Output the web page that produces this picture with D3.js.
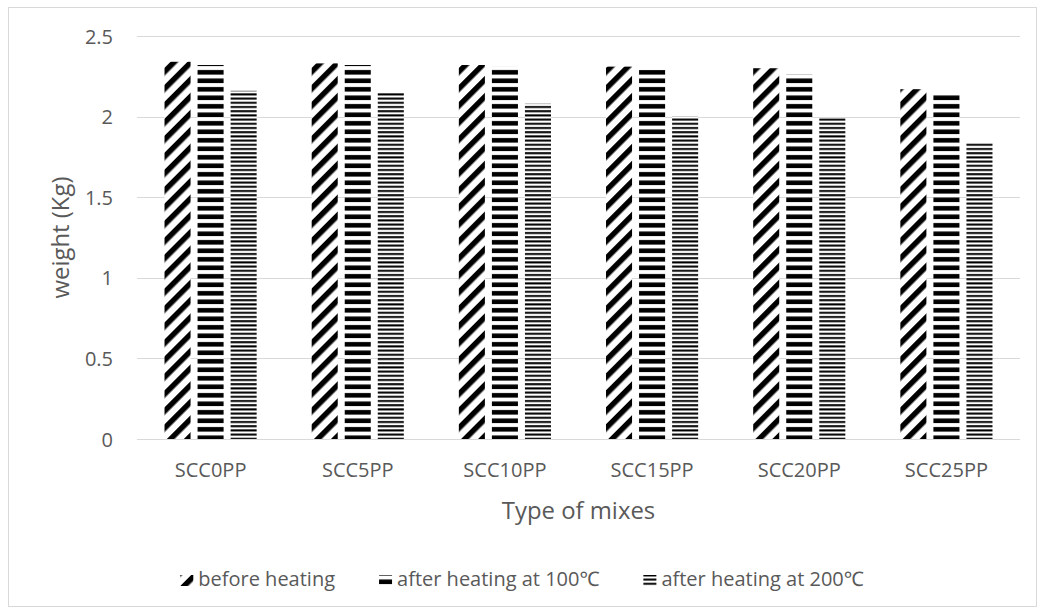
<!DOCTYPE html>
<html>
<head>
<meta charset="utf-8">
<script src="https://cdn.jsdelivr.net/npm/d3@7"></script>
<style>
  html, body { margin: 0; padding: 0; background: #fff; }
  svg text { font-family: "Open Sans", "Noto Sans", sans-serif; fill: #595959; }
</style>
</head>
<body>
<svg id="chart" width="1044" height="615"></svg>
<script>
// Mix types along the x axis
const categories = ["SCC0PP", "SCC5PP", "SCC10PP", "SCC15PP", "SCC20PP", "SCC25PP"];
// Series names (legend)
const seriesNames = ["before heating", "after heating at 100\u2103", "after heating at 200\u2103"];
// Specimen weight (Kg) per mix
const beforeHeating = [2.34, 2.33, 2.32, 2.31, 2.30, 2.17];
const after100 = [2.32, 2.32, 2.31, 2.29, 2.26, 2.15];
const after200 = [2.16, 2.15, 2.08, 2.00, 1.99, 1.84];
const yTicks = [0, 0.5, 1, 1.5, 2, 2.5];
const yTickLabels = ["0", "0.5", "1", "1.5", "2", "2.5"];

const seriesValues = [beforeHeating, after100, after200];
const patternIds = ["pat-diag", "pat-hwide", "pat-hnarrow"];

const svg = d3.select("#chart");
const W = 1044;
const plot = { left: 137, right: 1020, top: 36, bottom: 439 };
const labelSize = 20;

// pick a font size so that a string renders at the wanted width
function fitFontSize(str, targetWidth) {
  const t = svg.append("text").attr("font-size", 100).text(str);
  const w = t.node().getComputedTextLength();
  t.remove();
  return 100 * targetWidth / w;
}

// chart area border
svg.append("rect")
  .attr("x", 8.5).attr("y", 7.5)
  .attr("width", 1028).attr("height", 599)
  .attr("fill", "#fff").attr("stroke", "#d9d9d9").attr("stroke-width", 1);

// fill patterns
const defs = svg.append("defs");
const pDiag = defs.append("pattern").attr("id", "pat-diag")
  .attr("patternUnits", "userSpaceOnUse").attr("width", 12).attr("height", 12)
  .attr("patternTransform", "rotate(45)");
pDiag.append("rect").attr("width", 12).attr("height", 12).attr("fill", "#fff");
pDiag.append("rect").attr("width", 5.5).attr("height", 12).attr("fill", "#000");

const pWide = defs.append("pattern").attr("id", "pat-hwide")
  .attr("patternUnits", "userSpaceOnUse").attr("width", 8).attr("height", 8.5);
pWide.append("rect").attr("width", 8).attr("height", 8.5).attr("fill", "#fff");
pWide.append("rect").attr("y", 2).attr("width", 8).attr("height", 4.6).attr("fill", "#000");

const pNarrow = defs.append("pattern").attr("id", "pat-hnarrow")
  .attr("patternUnits", "userSpaceOnUse").attr("width", 8).attr("height", 4.2);
pNarrow.append("rect").attr("width", 8).attr("height", 4.2).attr("fill", "#fff");
pNarrow.append("rect").attr("y", 1).attr("width", 8).attr("height", 2).attr("fill", "#000");

// scales
const y = d3.scaleLinear().domain([0, 2.5]).range([plot.bottom, plot.top]);
const x0 = d3.scaleBand().domain(categories)
  .range([plot.left, plot.right]).paddingInner(0.374).paddingOuter(0.187);
const x1 = d3.scaleBand().domain(d3.range(seriesNames.length))
  .range([0, x0.bandwidth()]).paddingInner(0.212).paddingOuter(0);

// gridlines
svg.append("g").selectAll("line").data(yTicks.filter(d => d > 0)).join("line")
  .attr("x1", plot.left).attr("x2", plot.right)
  .attr("y1", d => Math.round(y(d)) + 0.5).attr("y2", d => Math.round(y(d)) + 0.5)
  .attr("stroke", "#d9d9d9").attr("stroke-width", 1);

// bars
const groups = svg.append("g").selectAll("g").data(categories).join("g")
  .attr("transform", d => `translate(${x0(d)},0)`);
groups.selectAll("rect")
  .data((c, ci) => seriesValues.map((vals, si) => ({ si, v: vals[ci] })))
  .join("rect")
  .attr("x", d => x1(d.si))
  .attr("width", x1.bandwidth())
  .attr("y", d => y(d.v))
  .attr("height", d => y(0) - y(d.v))
  .attr("fill", d => `url(#${patternIds[d.si]})`);

// x axis line
svg.append("line")
  .attr("x1", plot.left).attr("x2", plot.right)
  .attr("y1", Math.round(y(0)) + 0.5).attr("y2", Math.round(y(0)) + 0.5)
  .attr("stroke", "#d9d9d9").attr("stroke-width", 1);

// y axis tick labels
const yAxis = d3.axisLeft(y).tickValues(yTicks)
  .tickFormat((d, i) => yTickLabels[i]).tickSize(0).tickPadding(0);
const gy = svg.append("g").attr("transform", "translate(113,0)").call(yAxis);
gy.select(".domain").remove();
gy.selectAll("text").attr("font-size", labelSize).attr("font-family", null)
  .attr("fill", "#595959").attr("dy", "0.35em");

// x axis category labels
const xAxis = d3.axisBottom(x0).tickSize(0).tickPadding(0);
const gx = svg.append("g").attr("transform", `translate(0,${plot.bottom + 31})`).call(xAxis);
gx.select(".domain").remove();
gx.selectAll("text").attr("font-size", labelSize).attr("font-family", null)
  .attr("fill", "#595959").attr("dy", "0.35em");

// axis titles
const titleSize = fitFontSize("weight (Kg)", 122);
svg.append("text").attr("x", (plot.left + plot.right) / 2).attr("y", 511)
  .attr("text-anchor", "middle").attr("dy", "0.35em").attr("font-size", titleSize)
  .text("Type of mixes");
svg.append("text")
  .attr("transform", `translate(61,${(plot.top + plot.bottom) / 2}) rotate(-90)`)
  .attr("text-anchor", "middle").attr("dy", "0.35em").attr("font-size", titleSize)
  .text("weight (Kg)");

// legend: items laid out left to right, whole row centred in the chart area
const swW = 13, swH = 11, swGap = 5, itemGap = 44;
const legend = svg.append("g").attr("transform", "translate(0,586)");
const items = legend.selectAll("g").data(seriesNames).join("g");
items.append("rect").attr("x", 0).attr("y", -swH).attr("width", swW).attr("height", swH)
  .attr("fill", (d, i) => `url(#${patternIds[i]})`);
items.append("text").attr("x", swW + swGap).attr("font-size", labelSize)
  .text(d => d);
let cursor = 0;
const offsets = [];
items.each(function () {
  offsets.push(cursor);
  const tw = d3.select(this).select("text").node().getComputedTextLength();
  cursor += swW + swGap + tw + itemGap;
});
const total = cursor - itemGap;
const startX = (8 + 1036) / 2 - total / 2;
items.attr("transform", (d, i) => `translate(${startX + offsets[i]},0)`);
</script>
</body>
</html>
